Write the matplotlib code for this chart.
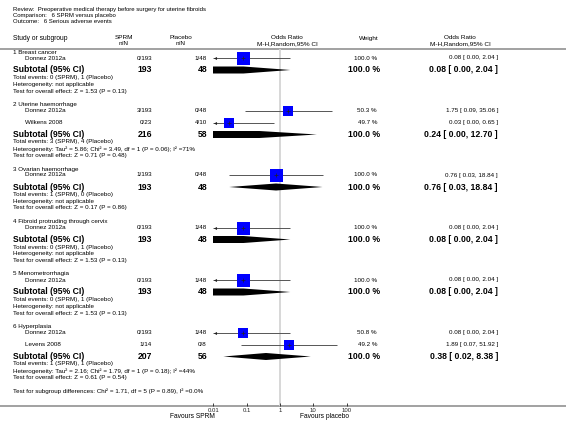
import matplotlib
matplotlib.use("Agg")
import matplotlib.pyplot as plt
import numpy as np

plt.rcParams['font.family'] = ['Liberation Sans', 'DejaVu Sans']

# ---------------- data ----------------
title_lines = ["Review:  Preoperative medical therapy before surgery for uterine fibroids",
               "Comparison:   6 SPRM versus placebo",
               "Outcome:   6 Serious adverse events"]

groups = ["1 Breast cancer", "2 Uterine haemorrhage", "3 Ovarian haemorrhage",
          "4 Fibroid protruding through cervix", "5 Menometrorrhagia", "6 Hyperplasia"]

study_group = [0, 1, 1, 2, 3, 4, 5, 5]
study_name = ["Donnez 2012a", "Donnez 2012a", "Wilkens 2008", "Donnez 2012a",
              "Donnez 2012a", "Donnez 2012a", "Donnez 2012a", "Levens 2008"]
sprm_events = [0, 3, 0, 1, 0, 0, 0, 1]
sprm_n = [193, 193, 23, 193, 193, 193, 193, 14]
pla_events = [1, 0, 4, 0, 1, 1, 1, 0]
pla_n = [48, 48, 10, 48, 48, 48, 48, 8]
study_or = [0.08, 1.75, 0.03, 0.76, 0.08, 0.08, 0.08, 1.89]
study_lo = [0.00, 0.09, 0.00, 0.03, 0.00, 0.00, 0.00, 0.07]
study_hi = [2.04, 35.06, 0.65, 18.84, 2.04, 2.04, 2.04, 51.92]
study_w = [100.0, 50.3, 49.7, 100.0, 100.0, 100.0, 50.8, 49.2]

sub_sprm_n = [193, 216, 193, 193, 193, 207]
sub_pla_n = [48, 58, 48, 48, 48, 56]
sub_ev_sprm = [0, 3, 1, 0, 0, 1]
sub_ev_pla = [1, 4, 0, 1, 1, 1]
sub_or = [0.08, 0.24, 0.76, 0.08, 0.08, 0.38]
sub_lo = [0.00, 0.00, 0.03, 0.00, 0.00, 0.02]
sub_hi = [2.04, 12.70, 18.84, 2.04, 2.04, 8.38]
sub_w = [100.0, 100.0, 100.0, 100.0, 100.0, 100.0]
sub_het = ["not applicable",
           "Tau\u00b2 = 5.86; Chi\u00b2 = 3.49, df = 1 (P = 0.06); I\u00b2 =71%",
           "not applicable", "not applicable", "not applicable",
           "Tau\u00b2 = 2.16; Chi\u00b2 = 1.79, df = 1 (P = 0.18); I\u00b2 =44%"]
sub_z = ["Z = 1.53 (P = 0.13)", "Z = 0.71 (P = 0.48)", "Z = 0.17 (P = 0.86)",
         "Z = 1.53 (P = 0.13)", "Z = 1.53 (P = 0.13)", "Z = 0.61 (P = 0.54)"]
subgroup_diff = "Test for subgroup differences: Chi\u00b2 = 1.71, df = 5 (P = 0.89), I\u00b2 =0.0%"

xticks = [0.01, 0.1, 1, 10, 100]
xtick_labels = ["0.01", "0.1", "1", "10", "100"]
fav_left = "Favours SPRM"
fav_right = "Favours placebo"

# ---------------- layout ----------------
W, H = 566, 429
fig = plt.figure(figsize=(W / 100, H / 100), dpi=100)
bg = fig.add_axes([0, 0, 1, 1])
bg.set_xlim(0, W)
bg.set_ylim(H, 0)
bg.axis('off')

AX_L, AX_R = 213.3, 346.7
AX_T, AX_B = 49, 406
ax = fig.add_axes([AX_L / W, (H - AX_B) / H, (AX_R - AX_L) / W, (AX_B - AX_T) / H])
ax.set_xscale('log')
ax.set_xlim(0.01, 100)
ax.set_ylim(AX_B, AX_T)
ax.patch.set_alpha(0)
for s in ax.spines.values():
    s.set_visible(False)
ax.set_xticks(xticks)
ax.set_xticklabels(xtick_labels)
ax.minorticks_off()
ax.tick_params(axis='x', direction='in', length=2.5, width=0.6, pad=1.5,
               labelsize=4.3, colors='#222222')
ax.tick_params(axis='y', left=False, labelleft=False)
ax.axvline(1, color='#d4d4d4', lw=1.3, zorder=0)

FS = 4.5       # small text
FSB = 6.2      # bold subtotal
X_LEFT = 13
X_STUDY = 25
X_SPRM = 152
X_PLA = 207
X_W = 377
X_CI = 498

# title
for i, t in enumerate(title_lines):
    bg.text(X_LEFT, 10 + i * 5.7, t, fontsize=4.3, va='center', ha='left')

# headers
bg.text(X_LEFT, 39, "Study or subgroup", fontsize=4.8, va='center')
bg.text(124, 37.5, "SPRM", fontsize=4.6, va='center', ha='center')
bg.text(124, 43.5, "n/N", fontsize=4.6, va='center', ha='center')
bg.text(181, 37.5, "Placebo", fontsize=4.6, va='center', ha='center')
bg.text(181, 43.5, "n/N", fontsize=4.6, va='center', ha='center')
bg.text(287, 37.5, "Odds Ratio", fontsize=4.6, va='center', ha='center')
bg.text(287, 43.5, "M-H,Random,95% CI", fontsize=4.6, va='center', ha='center')
bg.text(369, 38.5, "Weight", fontsize=4.6, va='center', ha='center')
bg.text(460, 37.5, "Odds Ratio", fontsize=4.6, va='center', ha='center')
bg.text(460, 43.5, "M-H,Random,95% CI", fontsize=4.6, va='center', ha='center')
bg.axhline(49, color='#9a9a9a', lw=1.3)
bg.axhline(406, color='#9a9a9a', lw=1.3)

MAX_SIDE = 13.0   # px side of 100% square
HALF_H = 3.5


def ci_text(o, l, h):
    return f"{o:.2f} [ {l:.2f}, {h:.2f} ]"


y = 52.0
for g, gname in enumerate(groups):
    bg.text(X_LEFT, y, gname, fontsize=FS, va='center')
    y += 6
    idx = [i for i, sg in enumerate(study_group) if sg == g]
    for k, i in enumerate(idx):
        if k > 0:
            y += 12
        bg.text(X_STUDY, y, study_name[i], fontsize=FS, va='center')
        bg.text(X_SPRM, y, f"{sprm_events[i]}/{sprm_n[i]}", fontsize=FS, va='center', ha='right')
        bg.text(X_PLA, y, f"{pla_events[i]}/{pla_n[i]}", fontsize=FS, va='center', ha='right')
        bg.text(X_W, y, f"{study_w[i]:.1f} %", fontsize=FS, va='center', ha='right')
        bg.text(X_CI, y, ci_text(study_or[i], study_lo[i], study_hi[i]), fontsize=FS,
                va='center', ha='right')
        lo = study_lo[i] if study_lo[i] >= 0.01 else 0.01
        hi = min(study_hi[i], 100)
        ax.plot([lo, hi], [y, y], color='#555555', lw=0.7, zorder=2, solid_capstyle='butt')
        if study_lo[i] < 0.01:
            ax.plot([0.0115], [y], marker='<', color='#222222', ms=2.2, mew=0, zorder=3)
        side = MAX_SIDE * np.sqrt(study_w[i] / 100.0)
        ax.plot([study_or[i]], [y], marker='s', color='#0000ff', ms=side * 0.72,
                mew=0, zorder=3)
        ax.plot([study_or[i]], [y], marker='+', color='#222222', ms=2.6, mew=0.5, zorder=4)
    y += 12
    # subtotal
    bg.text(X_LEFT, y, "Subtotal (95% CI)", fontsize=FSB, fontweight='bold', va='center')
    bg.text(X_SPRM, y, f"{sub_sprm_n[g]}", fontsize=FSB, fontweight='bold', va='center', ha='right')
    bg.text(X_PLA, y, f"{sub_pla_n[g]}", fontsize=FSB, fontweight='bold', va='center', ha='right')
    bg.text(X_W + 3, y, f"{sub_w[g]:.1f} %", fontsize=FSB, fontweight='bold', va='center', ha='right')
    bg.text(X_CI, y, ci_text(sub_or[g], sub_lo[g], sub_hi[g]), fontsize=FSB,
            fontweight='bold', va='center', ha='right')
    if sub_lo[g] < 0.01:
        dx = [0.001, sub_or[g], sub_hi[g], sub_or[g], 0.001]
        dy = [y - HALF_H, y - HALF_H, y, y + HALF_H, y + HALF_H]
    else:
        dx = [sub_lo[g], sub_or[g], sub_hi[g], sub_or[g]]
        dy = [y, y - HALF_H, y, y + HALF_H]
    ax.fill(dx, dy, color='black', lw=0, zorder=3)
    y += 7.5
    bg.text(X_LEFT, y, f"Total events: {sub_ev_sprm[g]} (SPRM), {sub_ev_pla[g]} (Placebo)",
            fontsize=FS, va='center')
    y += 7
    bg.text(X_LEFT, y, "Heterogeneity: " + sub_het[g], fontsize=FS, va='center')
    y += 6.5
    bg.text(X_LEFT, y, "Test for overall effect: " + sub_z[g], fontsize=FS, va='center')
    y += 13.5

bg.text(X_LEFT, y + 0.5, subgroup_diff, fontsize=FS, va='center')

bg.text(192, 417, fav_left, fontsize=4.8, va='center', ha='center')
bg.text(324, 417, fav_right, fontsize=4.8, va='center', ha='center')

fig.savefig("out.png", dpi=100)
